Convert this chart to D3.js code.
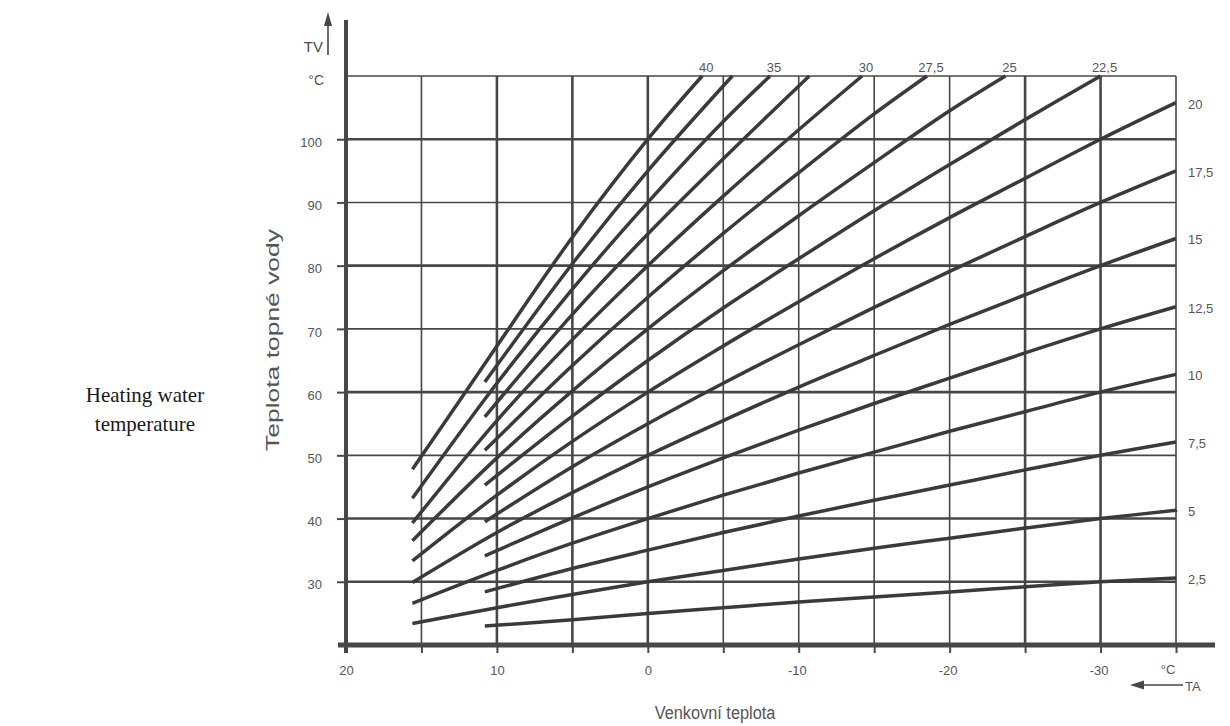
<!DOCTYPE html>
<html><head><meta charset="utf-8">
<script src="https://cdn.jsdelivr.net/npm/d3@7"></script>
<style>body{margin:0;background:#fff} svg{display:block}</style>
</head><body>
<svg id="chart" width="1230" height="726"></svg>
<script>
// ---- data ----
const outdoorTicks = [20, 10, 0, -10, -20, -30];
const waterTicks = [100, 90, 80, 70, 60, 50, 40, 30];
const outdoorGrid = [15, 10, 5, 0, -5, -10, -15, -20, -25, -30, -35];
const waterGrid = [110, 100, 90, 80, 70, 60, 50, 40, 30];

// heating curves: [outdoor temperature, heating water temperature]
const curve2_5 = [[10.8,23.0],[5,24.0],[0,25.0],[-5,25.9],[-10,26.8],[-15,27.6],[-20,28.4],[-25,29.2],[-30,30.0],[-35,30.6]];
const curve5 = [[15.6,23.4],[10,25.9],[5,28.0],[0,30.0],[-5,31.8],[-10,33.6],[-15,35.3],[-20,36.9],[-25,38.5],[-30,40.0],[-35,41.3]];
const curve7_5 = [[10.8,28.4],[5,32.1],[0,35.0],[-5,37.8],[-10,40.4],[-15,42.9],[-20,45.3],[-25,47.7],[-30,50.0],[-35,52.1]];
const curve10 = [[15.6,26.6],[10,31.8],[5,36.1],[0,40.0],[-5,43.7],[-10,47.2],[-15,50.5],[-20,53.8],[-25,56.9],[-30,60.0],[-35,62.8]];
const curve12_5 = [[10.8,34.1],[5,40.1],[0,45.0],[-5,49.6],[-10,54.0],[-15,58.2],[-20,62.2],[-25,66.2],[-30,70.0],[-35,73.5]];
const curve15 = [[15.6,29.9],[10,37.8],[5,44.1],[0,50.0],[-5,55.5],[-10,60.8],[-15,65.8],[-20,70.7],[-25,75.4],[-30,80.0],[-35,84.3]];
const curve17_5 = [[10.8,39.5],[5,48.2],[0,55.0],[-5,61.4],[-10,67.5],[-15,73.4],[-20,79.1],[-25,84.6],[-30,90.0],[-35,95.0]];
const curve20 = [[15.6,33.3],[10,43.7],[5,52.2],[0,60.0],[-5,67.3],[-10,74.3],[-15,81.1],[-20,87.6],[-25,93.8],[-30,100.0],[-35,105.8]];
const curve22_5 = [[10.8,45.3],[5,56.2],[0,65.0],[-5,73.3],[-10,81.1],[-15,88.7],[-20,96.0],[-25,103.1],[-30,110.0]];
const curve25 = [[15.6,36.5],[10,49.6],[5,60.2],[0,70.0],[-5,79.2],[-10,87.9],[-15,96.3],[-20,104.5],[-23.7,110.0]];
const curve27_5 = [[10.8,50.8],[5,64.2],[0,75.0],[-5,85.1],[-10,94.7],[-15,104.0],[-18.5,110.0]];
const curve30 = [[15.6,39.3],[10,55.5],[5,68.3],[0,80.0],[-5,91.0],[-10,101.5],[-14.2,110.0]];
const curve32_5 = [[10.8,56.1],[5,72.3],[0,85.0],[-5,96.9],[-10.7,110.0]];
const curve35 = [[15.6,43.2],[10,61.4],[5,76.3],[0,90.0],[-5,102.8],[-8.1,110.0]];
const curve37_5 = [[10.8,61.6],[5,80.3],[0,95.0],[-5.6,110.0]];
const curve40 = [[15.6,47.8],[12,60.3],[10,67.3],[5,84.5],[0,100.0],[-3.6,110.0]];

const slopeNames = ["2,5","5","7,5","10","12,5","15","17,5","20","22,5","25","27,5","30","32,5","35","37,5","40"];
const slopeCurves = [curve2_5,curve5,curve7_5,curve10,curve12_5,curve15,curve17_5,curve20,curve22_5,curve25,curve27_5,curve30,curve32_5,curve35,curve37_5,curve40];
const labelledTop = ["22,5","25","27,5","30","35","40"];

// ---- drawing ----
const svg = d3.select("#chart");
const x = d3.scaleLinear().domain([20, -35]).range([346, 1176]);
const y = d3.scaleLinear().domain([20, 110]).range([645, 76]);

const ink = "#474747";
const textCol = "#555555";
const thickV = new Set([10, 5, 0, -25, -30]);
const thickH = new Set([100, 80, 60, 40, 30]);

// grid
svg.append("g").selectAll("line").data(outdoorGrid).join("line")
  .attr("x1", d => x(d)).attr("x2", d => x(d))
  .attr("y1", y(110)).attr("y2", y(20))
  .attr("stroke", ink).attr("stroke-width", d => thickV.has(d) ? 2.6 : 1.6);
svg.append("g").selectAll("line").data(waterGrid).join("line")
  .attr("x1", x(20)).attr("x2", x(-35))
  .attr("y1", d => y(d)).attr("y2", d => y(d))
  .attr("stroke", ink).attr("stroke-width", d => thickH.has(d) ? 2.6 : 1.6);

// curves
const line = d3.line().x(d => x(d[0])).y(d => y(d[1])).curve(d3.curveCatmullRom.alpha(0.5));
svg.append("g").selectAll("path").data(slopeCurves).join("path")
  .attr("d", line).attr("fill", "none")
  .attr("stroke", "#3a3a3a").attr("stroke-width", 3.5);

// curve labels
const labels = svg.append("g").attr("font-family", "Liberation Sans, Arial, sans-serif")
  .attr("font-size", 13).attr("fill", textCol);
slopeCurves.forEach((c, i) => {
  const name = slopeNames[i];
  const end = c[c.length - 1];
  if (end[1] >= 110) {
    if (labelledTop.includes(name)) {
      labels.append("text").attr("x", x(end[0]) + 4).attr("y", y(110) - 4)
        .attr("text-anchor", "middle").text(name);
    }
  } else {
    labels.append("text").attr("x", x(-35) + 12).attr("y", y(end[1]) + 6)
      .text(name);
  }
});

// axes (ticks + labels)
const yAxis = d3.axisLeft(y).tickValues(waterTicks).tickSize(9).tickPadding(15);
const gy = svg.append("g").attr("transform", `translate(${x(20)},0)`).call(yAxis);
const xAxis = d3.axisBottom(x).tickValues([20, ...outdoorGrid]).tickSize(8).tickPadding(13)
  .tickFormat(d => outdoorTicks.includes(d) ? String(d) : "");
const gx = svg.append("g").attr("transform", `translate(0,${y(20)})`).call(xAxis);
[gx, gy].forEach(g => {
  g.select(".domain").remove();
  g.selectAll(".tick line").attr("stroke", ink).attr("stroke-width", 2);
  g.selectAll(".tick text").attr("fill", textCol).attr("font-size", 13)
    .attr("font-family", "Liberation Sans, Arial, sans-serif");
});
gx.selectAll(".tick text").attr("dx", d => d < 0 ? "-0.15em" : 0);
gy.selectAll(".tick text").attr("dy", "0.55em");

// main axis lines
svg.append("line").attr("x1", x(20)).attr("x2", x(20)).attr("y1", 20).attr("y2", y(20) + 8)
  .attr("stroke", ink).attr("stroke-width", 4);
svg.append("line").attr("x1", x(20) - 8).attr("x2", 1215).attr("y1", y(20)).attr("y2", y(20))
  .attr("stroke", ink).attr("stroke-width", 5);

// unit and symbol labels
const misc = svg.append("g").attr("font-family", "Liberation Sans, Arial, sans-serif")
  .attr("font-size", 13).attr("fill", textCol);
misc.append("text").attr("x", x(20) - 22).attr("y", y(110) + 9).attr("text-anchor", "end")
  .attr("font-size", 14).text("°C");
misc.append("text").attr("x", x(20) - 23).attr("y", 52).attr("text-anchor", "end")
  .attr("font-size", 15).attr("fill", "#4a4a4a").text("TV");
misc.append("line").attr("x1", 328).attr("x2", 328).attr("y1", 55).attr("y2", 18)
  .attr("stroke", ink).attr("stroke-width", 1.6);
misc.append("path").attr("d", "M324,26 L328,12 L332,26 Z").attr("fill", ink);
misc.append("text").attr("x", x(-35) - 8).attr("y", y(20) + 29).attr("text-anchor", "middle").text("°C");
misc.append("line").attr("x1", 1140).attr("x2", 1183).attr("y1", 685).attr("y2", 685)
  .attr("stroke", ink).attr("stroke-width", 1.6);
misc.append("path").attr("d", "M1130,685 L1144,680.5 L1144,689.5 Z").attr("fill", ink);
misc.append("text").attr("x", 1185).attr("y", 691).text("TA");

// titles (condensed / stretched sans, as in the reference)
svg.append("text").attr("transform", "translate(715,719) scale(0.86,1)").attr("text-anchor", "middle")
  .attr("font-family", "Liberation Sans, Arial, sans-serif")
  .attr("font-size", 19).attr("fill", textCol).text("Venkovní teplota");
svg.append("text").attr("transform", "translate(279,340) rotate(-90)").attr("text-anchor", "middle")
  .attr("font-family", "Liberation Sans, Arial, sans-serif")
  .attr("font-size", 19).attr("fill", textCol)
  .attr("textLength", 222).attr("lengthAdjust", "spacingAndGlyphs").text("Teplota topné vody");
const side = svg.append("text").attr("text-anchor", "middle")
  .attr("font-family", "Liberation Serif, Times New Roman, serif")
  .attr("font-size", 21).attr("fill", "#1a1a1a");
side.append("tspan").attr("x", 145).attr("y", 402).text("Heating water");
side.append("tspan").attr("x", 145).attr("y", 431).text("temperature");
</script>
</body></html>
